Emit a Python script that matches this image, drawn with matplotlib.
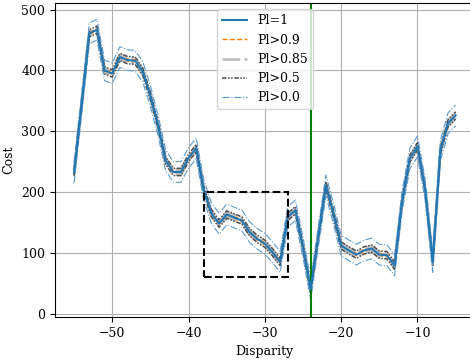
import numpy as np
import matplotlib
matplotlib.use("Agg")
import matplotlib.pyplot as plt
import matplotlib.patches as mpatches

plt.rcParams['font.family'] = 'DejaVu Serif'
plt.rcParams['font.size'] = 9

# disparity search range and matching cost of the full-confidence curve
disparity = np.arange(-55, -4)
cost = [232, 345, 461, 467, 400, 395, 422, 417, 416, 398,
        358, 310, 252, 233, 233, 256, 272, 203, 165, 148,
        163, 158, 153, 134, 123, 115, 101, 85, 159, 170,
        109, 40, 126, 211, 164, 112, 104, 97, 104, 107,
        97, 96, 79, 186, 255, 275, 205, 85, 268, 313, 326]

# half-width of the cost band kept for each confidence threshold
band_labels = ['Pl>0.9', 'Pl>0.85', 'Pl>0.5', 'Pl>0.0']
band_width = [2, 4, 6, 17]
band_colors = ['#ff7f0e', '#c0c0c0', '#4d4d4d', '#5b9bd5']
band_styles = ['--', '-.', (0, (3, 1, 1, 1, 1, 1)), '-.']
band_lw = [1.0, 2.0, 1.1, 0.8]

true_disparity = -24
zoom_box = (-38, 60, -27, 200)  # x0, y0, x1, y1

fig = plt.figure(figsize=(4.7, 3.61), dpi=100)
ax = fig.add_axes([0.117, 0.122, 0.893, 0.869])

cost = np.array(cost, dtype=float)
ax.plot(disparity, cost, color='#1f77b4', lw=1.5, label='Pl=1', zorder=5)
for lab, w, c, ls, lw in zip(band_labels, band_width, band_colors, band_styles, band_lw):
    ax.plot(disparity, cost + w, color=c, ls=ls, lw=lw, label=lab)
    ax.plot(disparity, cost - w, color=c, ls=ls, lw=lw)

ax.axvline(true_disparity, color='green', lw=1.5)
x0, y0, x1, y1 = zoom_box
ax.add_patch(mpatches.Rectangle((x0, y0), x1 - x0, y1 - y0, fill=False,
                                ec='black', ls='--', lw=1.5, zorder=6))

ax.set_xlim(-57.5, -2.5)
ax.set_ylim(-5.5, 510.5)
ax.grid(True)
ax.set_xlabel('Disparity')
ax.set_ylabel('Cost')
ax.legend(loc='upper center')

fig.savefig('out.png', dpi=100)
